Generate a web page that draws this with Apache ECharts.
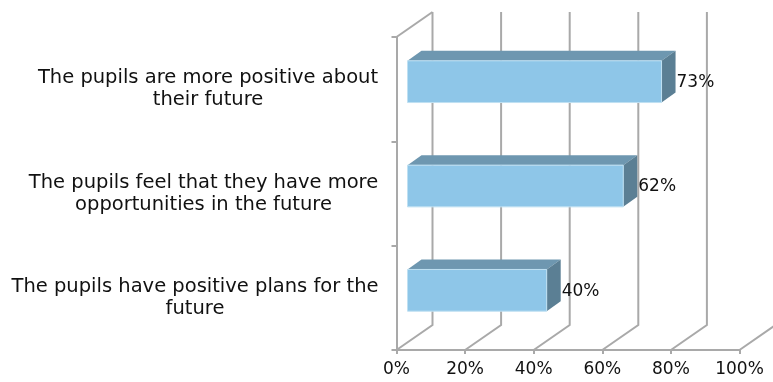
<!DOCTYPE html>
<html>
<head>
<meta charset="utf-8">
<script src="https://cdn.jsdelivr.net/npm/echarts@6/dist/echarts.min.js"></script>
<style>
  html, body { margin: 0; padding: 0; background: #fff; }
  #chart { width: 773px; height: 382px; }
</style>
</head>
<body>
<div id="chart"></div>
<script>
// Survey statements (top to bottom) and share of agreement
const categories = [
  'The pupils are more positive about\ntheir future',
  'The pupils feel that they have more\nopportunities in the future',
  'The pupils have positive plans for the\nfuture'
];
const values = [73, 62, 40];
const tickValues = [0, 20, 40, 60, 80, 100];
const tickLabels = ['0%', '20%', '40%', '60%', '80%', '100%'];

const FONT = '"DejaVu Sans", Verdana, sans-serif';
const CAT_SIZE = 19.5;
const LINE = '#a9a9a9';

// depth of the floor/walls and of each bar (oblique projection)
const WALL_DX = 36, WALL_DY = -25;
const BAR_DX = 14, BAR_DY = -10;

// measure each label block so its lines can be centred within it
const ctx = document.createElement('canvas').getContext('2d');
ctx.font = CAT_SIZE + 'px ' + FONT;
const rich = {};
categories.forEach((c, i) => {
  const w = Math.max(...c.split('\n').map(s => ctx.measureText(s).width));
  rich['c' + i] = {
    width: Math.ceil(w), align: 'center',
    fontSize: CAT_SIZE, lineHeight: 22, fontFamily: FONT, color: '#111'
  };
});

const chart = echarts.init(document.getElementById('chart'));

chart.setOption({
  animation: false,
  backgroundColor: '#fff',
  grid: [
    { left: 396.5, right: 33.5, top: 37, bottom: 32 },
    { left: 407.5, right: 17.5, top: 29.5, bottom: 39.5 }
  ],
  xAxis: [
    {
      type: 'value', gridIndex: 0, min: 0, max: 100, interval: 20,
      axisLine: { show: true, lineStyle: { color: LINE, width: 2 } },
      axisTick: { show: true, length: 4, lineStyle: { color: LINE, width: 2 } },
      splitLine: { show: false },
      axisLabel: {
        margin: 11, fontSize: 17, fontFamily: FONT, color: '#111',
        formatter: v => tickLabels[tickValues.indexOf(v)]
      }
    },
    { type: 'value', gridIndex: 1, min: 0, max: 100, show: false }
  ],
  yAxis: [
    {
      type: 'category', gridIndex: 0, inverse: true, data: categories,
      axisLine: { show: true, lineStyle: { color: LINE, width: 2 } },
      axisTick: { show: true, length: 5, lineStyle: { color: LINE, width: 2 } },
      splitLine: { show: false },
      axisLabel: {
        margin: 18, align: 'right', rich: rich,
        formatter: (v, i) => v.split('\n').map(s => '{c' + i + '|' + s + '}').join('\n')
      }
    },
    { type: 'category', gridIndex: 1, inverse: true, data: categories, show: false }
  ],
  series: [
    {
      // floor diagonals, back-wall verticals and the left wall top edge
      type: 'custom', xAxisIndex: 0, yAxisIndex: 0, z: 1, clip: false, silent: true,
      data: tickValues.map(v => [v, 0]),
      encode: { x: 0, y: 1 },
      renderItem: (params, api) => {
        const cs = params.coordSys;
        const v = api.value(0);
        const x = api.coord([v, 0])[0];
        const yb = cs.y + cs.height;
        const style = { stroke: LINE, lineWidth: 2, fill: null };
        const children = [{
          type: 'polyline',
          shape: { points: [[x, yb], [x + WALL_DX, yb + WALL_DY], [x + WALL_DX, cs.y + WALL_DY]] },
          style: style
        }];
        if (v === 0) {
          children.push({
            type: 'line',
            shape: { x1: x, y1: cs.y, x2: x + WALL_DX, y2: cs.y + WALL_DY },
            style: style
          });
        }
        return { type: 'group', children: children };
      }
    },
    {
      // 3D bars: front face, top face, side face and value label
      type: 'custom', xAxisIndex: 1, yAxisIndex: 1, z: 5, clip: false,
      data: values.map((v, i) => [v, i]),
      encode: { x: 0, y: 1 },
      renderItem: (params, api) => {
        const v = api.value(0), idx = api.value(1);
        const p0 = api.coord([0, idx]);
        const p1 = api.coord([v, idx]);
        const h = api.size([0, 1])[1] * 0.4;
        const t = p0[1] - h / 2, b = p0[1] + h / 2;
        const x0 = p0[0], x1 = p1[0];
        return {
          type: 'group',
          children: [
            {
              type: 'polygon',
              shape: { points: [[x0, t], [x1, t], [x1 + BAR_DX, t + BAR_DY], [x0 + BAR_DX, t + BAR_DY]] },
              style: { fill: '#6e97b0' }
            },
            {
              type: 'polygon',
              shape: { points: [[x1, t], [x1 + BAR_DX, t + BAR_DY], [x1 + BAR_DX, b + BAR_DY], [x1, b]] },
              style: { fill: '#5b7f94' }
            },
            {
              type: 'rect',
              shape: { x: x0, y: t, width: x1 - x0, height: h },
              style: { fill: '#8ec6e8', stroke: '#bfe0f2', lineWidth: 1 }
            },
            {
              type: 'text',
              style: {
                text: v + '%', x: x1 + BAR_DX + 1, y: p0[1] + 1,
                align: 'left', verticalAlign: 'middle',
                fontSize: 17, fontFamily: FONT, fill: '#111'
              }
            }
          ]
        };
      }
    }
  ]
});
</script>
</body>
</html>
